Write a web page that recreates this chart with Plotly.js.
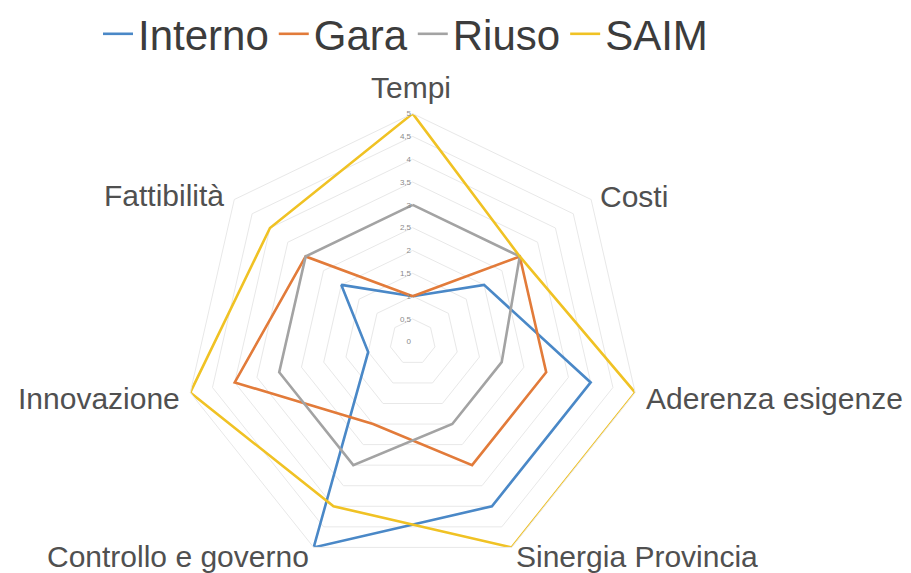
<!DOCTYPE html>
<html>
<head>
<meta charset="utf-8">
<script src="https://cdn.plot.ly/plotly-3.0.1.min.js"></script>
<style>html,body{margin:0;padding:0;background:#fff;}#chart{width:911px;height:573px;}</style>
</head>
<body>
<div id="chart"></div>
<script>
// Data
var categories = ["Tempi", "Costi", "Aderenza esigenze", "Sinergia Provincia", "Controllo e governo", "Innovazione", "Fattibilità"];
var seriesNames = ["Interno", "Gara", "Riuso", "SAIM"];
var interno = [1, 2, 4, 4, 5, 1, 2];
var gara    = [1, 3, 3, 3, 2, 4, 3];
var riuso   = [3, 3, 2, 2, 3, 3, 3];
var saim    = [5, 3, 5, 5, 4, 5, 4];
var tickValues = [0, 0.5, 1, 1.5, 2, 2.5, 3, 3.5, 4, 4.5, 5];
var tickLabels = ["0", "0,5", "1", "1,5", "2", "2,5", "3", "3,5", "4", "4,5", "5"];

var colors = ["#4A88C7", "#E27B3A", "#A3A3A3", "#F0C224"];
var seriesValues = [interno, gara, riuso, saim];

var W = 911, H = 573;
function px(x) { return x / W; }
function py(y) { return 1 - y / H; }

var traces = seriesNames.map(function (name, i) {
  var r = seriesValues[i].concat([seriesValues[i][0]]);
  var th = categories.concat([categories[0]]);
  return {
    type: "scatterpolar",
    mode: "lines",
    name: name,
    r: r,
    theta: th,
    line: { color: colors[i], width: 2.6 },
    hoverinfo: "skip"
  };
});

// category label placement (layout only)
var labelPos = [
  { x: 411, y: 86, xa: "center" },
  { x: 598, y: 195, xa: "left" },
  { x: 644, y: 398, xa: "left" },
  { x: 514, y: 556, xa: "left" },
  { x: 311, y: 556, xa: "right" },
  { x: 182, y: 398, xa: "right" },
  { x: 226, y: 194, xa: "right" }
];
var annotations = categories.map(function (c, i) {
  return {
    text: c,
    xref: "paper", yref: "paper",
    x: px(labelPos[i].x), y: py(labelPos[i].y),
    xanchor: labelPos[i].xa, yanchor: "middle",
    showarrow: false,
    font: { family: "Liberation Sans, Arial, sans-serif", size: 30, color: "#505050" }
  };
});

var layout = {
  width: W, height: H,
  margin: { l: 0, r: 0, t: 0, b: 0 },
  paper_bgcolor: "#ffffff",
  plot_bgcolor: "#ffffff",
  showlegend: true,
  legend: {
    orientation: "h",
    x: px(98), xanchor: "left",
    y: py(-2), yanchor: "top",
    font: { family: "Liberation Sans, Arial, sans-serif", size: 42, color: "#3c3c3c" },
    itemwidth: 30,
    traceorder: "normal"
  },
  annotations: annotations,
  polar: {
    domain: { x: [px(183.7), px(641.7)], y: [py(570), py(112)] },
    bgcolor: "#ffffff",
    gridshape: "linear",
    radialaxis: {
      range: [0, 5],
      angle: 90,
      side: "counterclockwise",
      tickangle: 90,
      tickvals: tickValues,
      ticktext: tickLabels,
      showline: false,
      ticks: "",
      gridcolor: "#e8e8e8",
      gridwidth: 1,
      tickfont: { family: "Liberation Sans, Arial, sans-serif", size: 8, color: "#8a8a8a" }
    },
    angularaxis: {
      direction: "clockwise",
      rotation: 90,
      showgrid: false,
      showline: true,
      linecolor: "#e8e8e8",
      linewidth: 1,
      showticklabels: false,
      ticks: ""
    }
  }
};

Plotly.newPlot("chart", traces, layout, { displayModeBar: false, staticPlot: true });
</script>
</body>
</html>
